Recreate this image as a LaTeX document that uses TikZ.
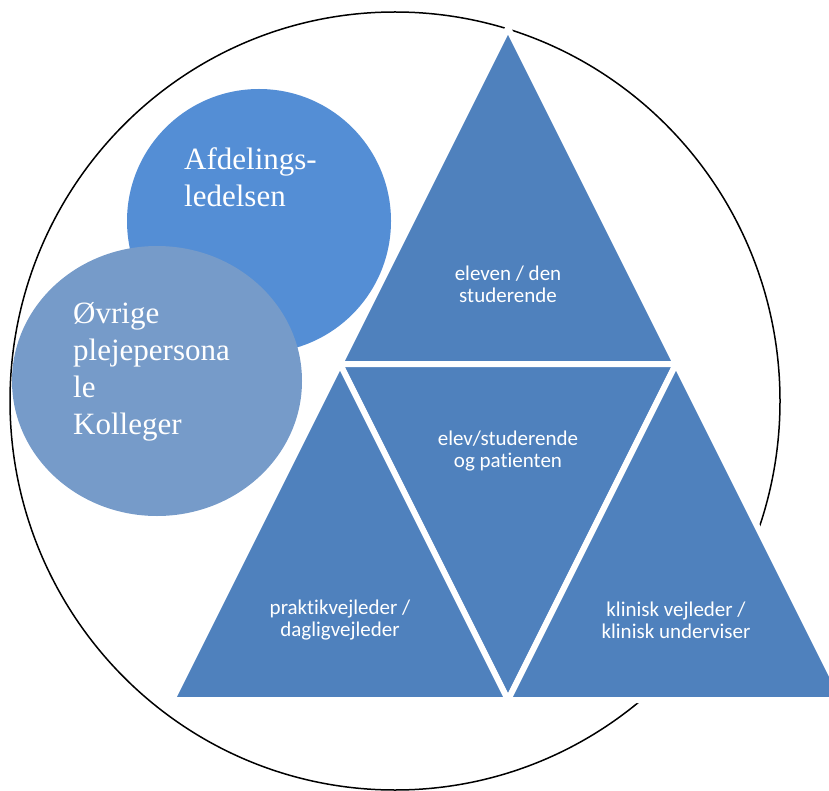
\documentclass[tikz,border=0pt]{standalone}
\usepackage{fontspec}
\setmainfont{Liberation Serif}
\newfontfamily\labelfont[Ligatures=NoCommon]{Carlito}
\usetikzlibrary{positioning}

\definecolor{triblue}{RGB}{79,129,189}
\definecolor{ledblue}{RGB}{84,142,213}
\definecolor{kolblue}{RGB}{118,155,201}

\begin{document}
\begin{tikzpicture}[x=1pt,y=-1pt,
        tri/.style={fill=triblue,draw=white,line width=6pt,line join=miter},
        trilabel/.style={text=white,align=center,inner sep=0pt,font=\labelfont\fontsize{21}{22}\selectfont},
        bubble/.style={text=white,align=left,inner sep=0pt,anchor=north west,font=\fontsize{31}{37}\selectfont}]
    \useasboundingbox (0,0) rectangle (829,791);
    \clip (0,0) rectangle (829,791);
    % the two circles
    \fill[ledblue] (259,221) circle [radius=132];
    \fill[kolblue] (157,381) ellipse [x radius=145, y radius=135];
    \draw[line width=1.5pt] (395,401) ellipse [x radius=385, y radius=389];
    \node[bubble] (led) at (184,147) {Afdelings-\\ledelsen};
    \node[bubble] (kol) at (73,302) {Øvrige\\plejepersona\\le\\Kolleger};
    % triangles
    \coordinate (apex) at (508,28);
    \coordinate (ml) at (340,364);
    \coordinate (mr) at (676,364);
    \coordinate (bl) at (172,700);
    \coordinate (bm) at (508,700);
    \coordinate (br) at (844,700);
    \draw[tri] (apex) -- (ml) -- (mr) -- cycle;
    \draw[tri] (ml) -- (mr) -- (bm) -- cycle;
    \draw[tri] (ml) -- (bm) -- (bl) -- cycle;
    \draw[tri] (mr) -- (br) -- (bm) -- cycle;
    \node[trilabel] (elev) at (508,284) {eleven / den\\studerende};
    \node[trilabel] (patient) at (508,451) {elev/studerende\\og patienten};
    \node[trilabel] (praktik) at (340,620) {praktikvejleder /\\dagligvejleder};
    \node[trilabel] (klinisk) at (676,620) {klinisk vejleder /\\klinisk underviser};
\end{tikzpicture}
\end{document}
